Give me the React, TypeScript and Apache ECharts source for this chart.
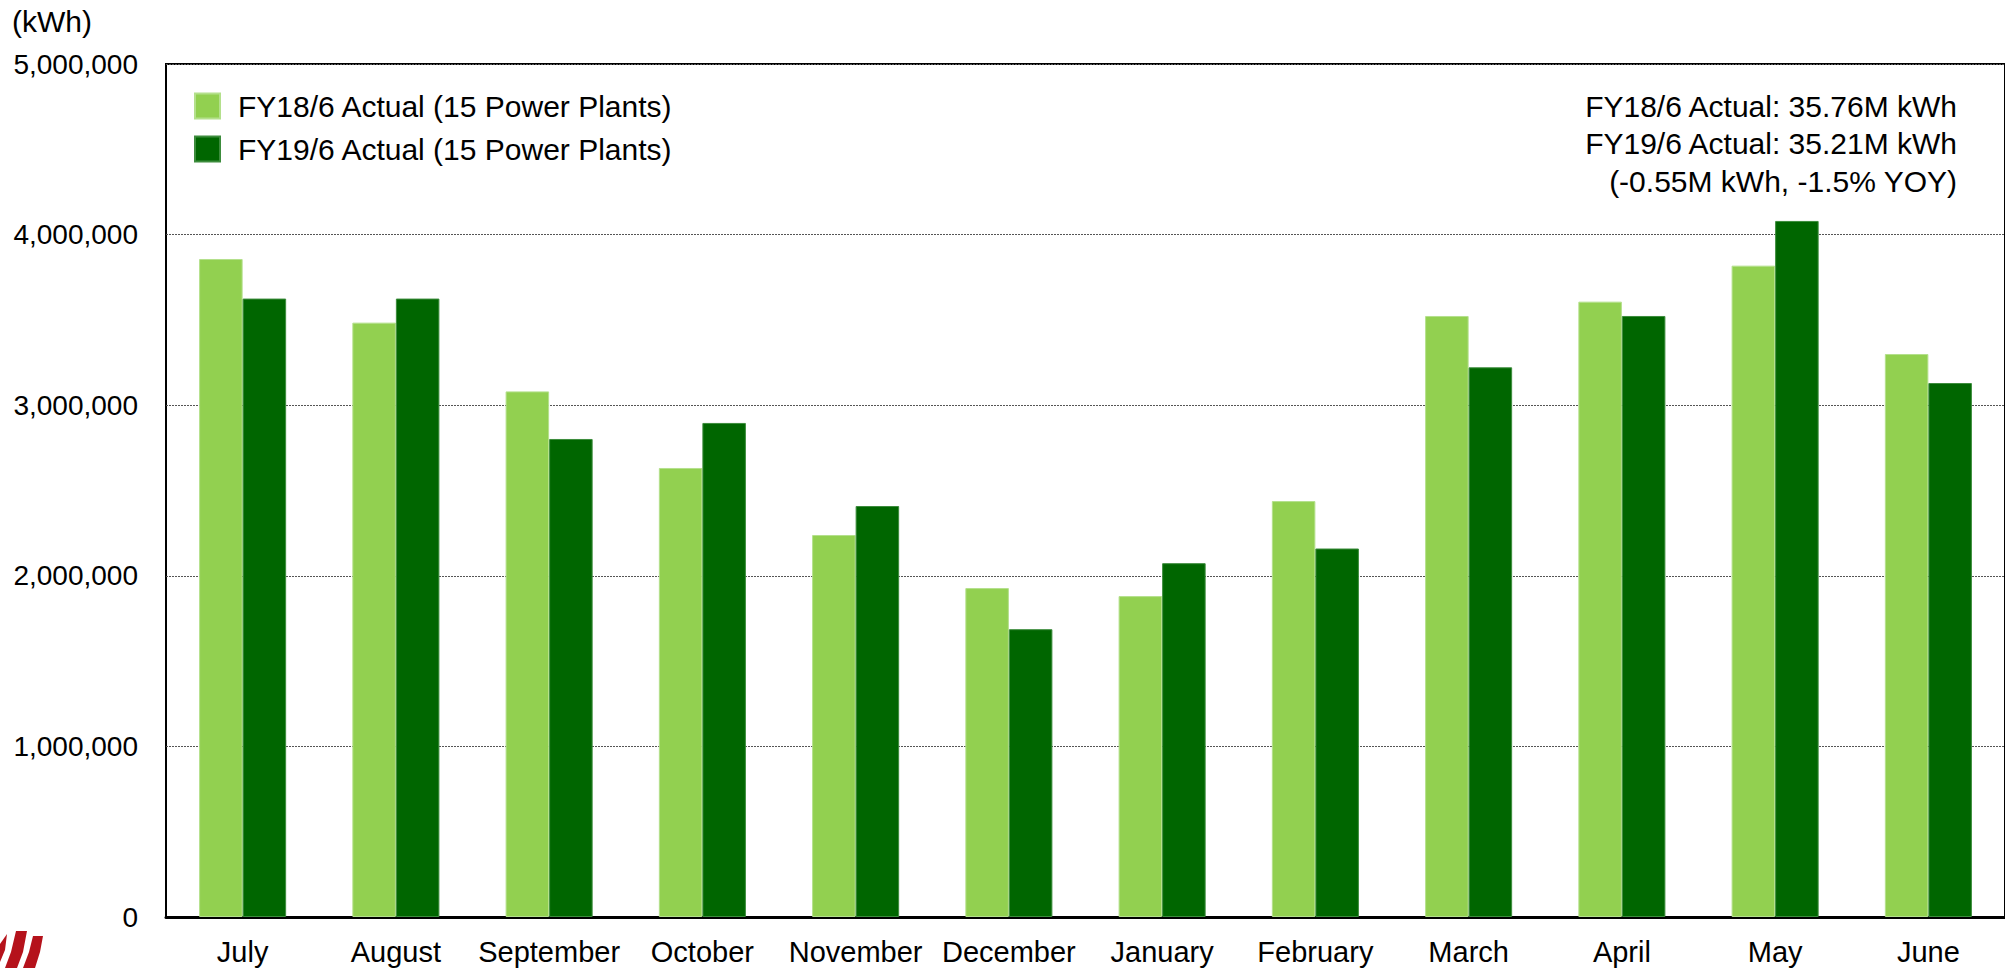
import React, { useEffect, useRef } from "react";
import * as echarts from "echarts";

const categories = ["July", "August", "September", "October", "November", "December", "January", "February", "March", "April", "May", "June"];
const fy18Values = [3857000, 3484000, 3081000, 2632000, 2239000, 1928000, 1881000, 2438000, 3523000, 3607000, 3818000, 3300000];
const fy19Values = [3625000, 3625000, 2802000, 2896000, 2409000, 1687000, 2074000, 2160000, 3222000, 3523000, 4080000, 3130000];
const seriesNames = ["FY18/6 Actual (15 Power Plants)", "FY19/6 Actual (15 Power Plants)"];
const summaryLines = ["FY18/6 Actual: 35.76M kWh", "FY19/6 Actual: 35.21M kWh", "(-0.55M kWh, -1.5% YOY)"];
const unitLabel = "(kWh)";

const FONT = "'Liberation Sans', Arial, Helvetica, sans-serif";

export default function App() {
  const ref = useRef<HTMLDivElement>(null);
  useEffect(() => {
    if (!ref.current) return;
    const chart = echarts.init(ref.current, null, { renderer: "svg" });
    const logoColor = "#b5121b";
    chart.setOption({
      animation: false,
      backgroundColor: "#ffffff",
      textStyle: { fontFamily: FONT },
      grid: {
        left: 166,
        right: -2,
        top: 64,
        bottom: 51,
        show: true,
        borderColor: "#000",
        borderWidth: 2,
        backgroundColor: "transparent",
      },
      legend: {
        orient: "vertical",
        left: 194,
        top: 91,
        padding: 0,
        itemWidth: 25,
        itemHeight: 25,
        itemGap: 13,
        icon: "rect",
        data: seriesNames,
        textStyle: {
          fontFamily: FONT,
          fontSize: 30,
          color: "#000",
          lineHeight: 30,
          padding: [0, 0, 0, 13],
        },
      },
      xAxis: {
        type: "category",
        data: categories,
        axisTick: { show: false },
        axisLine: { show: true, lineStyle: { color: "#000", width: 3 } },
        axisLabel: { fontFamily: FONT, fontSize: 29, color: "#000", margin: 20, interval: 0 },
        splitLine: { show: false },
      },
      yAxis: {
        type: "value",
        min: 0,
        max: 5000000,
        interval: 1000000,
        axisLine: { show: false },
        axisTick: { show: false },
        axisLabel: {
          fontFamily: FONT,
          fontSize: 28,
          color: "#000",
          margin: 28,
          formatter: (v: number) => v.toLocaleString("en-US"),
        },
        splitLine: { show: true, lineStyle: { color: "#555", width: 1, type: [2, 1] } },
      },
      series: [
        {
          name: seriesNames[0],
          type: "bar",
          data: fy18Values,
          barWidth: "28.4%",
          barGap: "0%",
          itemStyle: { color: "#92d050", borderColor: "#b4e08c", borderWidth: 1 },
        },
        {
          name: seriesNames[1],
          type: "bar",
          data: fy19Values,
          barWidth: "28.4%",
          barGap: "0%",
          itemStyle: { color: "#006600", borderColor: "#3c8c3c", borderWidth: 1 },
        },
      ],
      graphic: [
        {
          type: "text",
          left: 12,
          top: 6,
          style: { text: unitLabel, fontFamily: FONT, fontSize: 30, fill: "#000" },
        },
        ...summaryLines.map((t, i) => ({
          type: "text",
          x: 1957,
          y: 106 + i * 37.5,
          style: {
            text: t,
            fontFamily: FONT,
            fontSize: 30,
            fill: "#000",
            align: "right",
            verticalAlign: "middle",
          },
        })),
        {
          type: "polygon",
          shape: { points: [[0, 944], [7, 934], [5, 950], [0, 962]] },
          style: { fill: logoColor },
        },
        {
          type: "polygon",
          shape: { points: [[16, 931], [27, 931], [23, 952], [17, 968], [5, 968], [11, 952]] },
          style: { fill: logoColor },
        },
        {
          type: "polygon",
          shape: { points: [[33, 936], [43, 936], [40, 952], [35, 968], [23, 968], [29, 952]] },
          style: { fill: logoColor },
        },
      ],
    });
    return () => chart.dispose();
  }, []);
  return (
    <div
      ref={ref}
      style={{ position: "fixed", left: 0, top: 0, width: 2005, height: 968, background: "#fff" }}
    />
  );
}
